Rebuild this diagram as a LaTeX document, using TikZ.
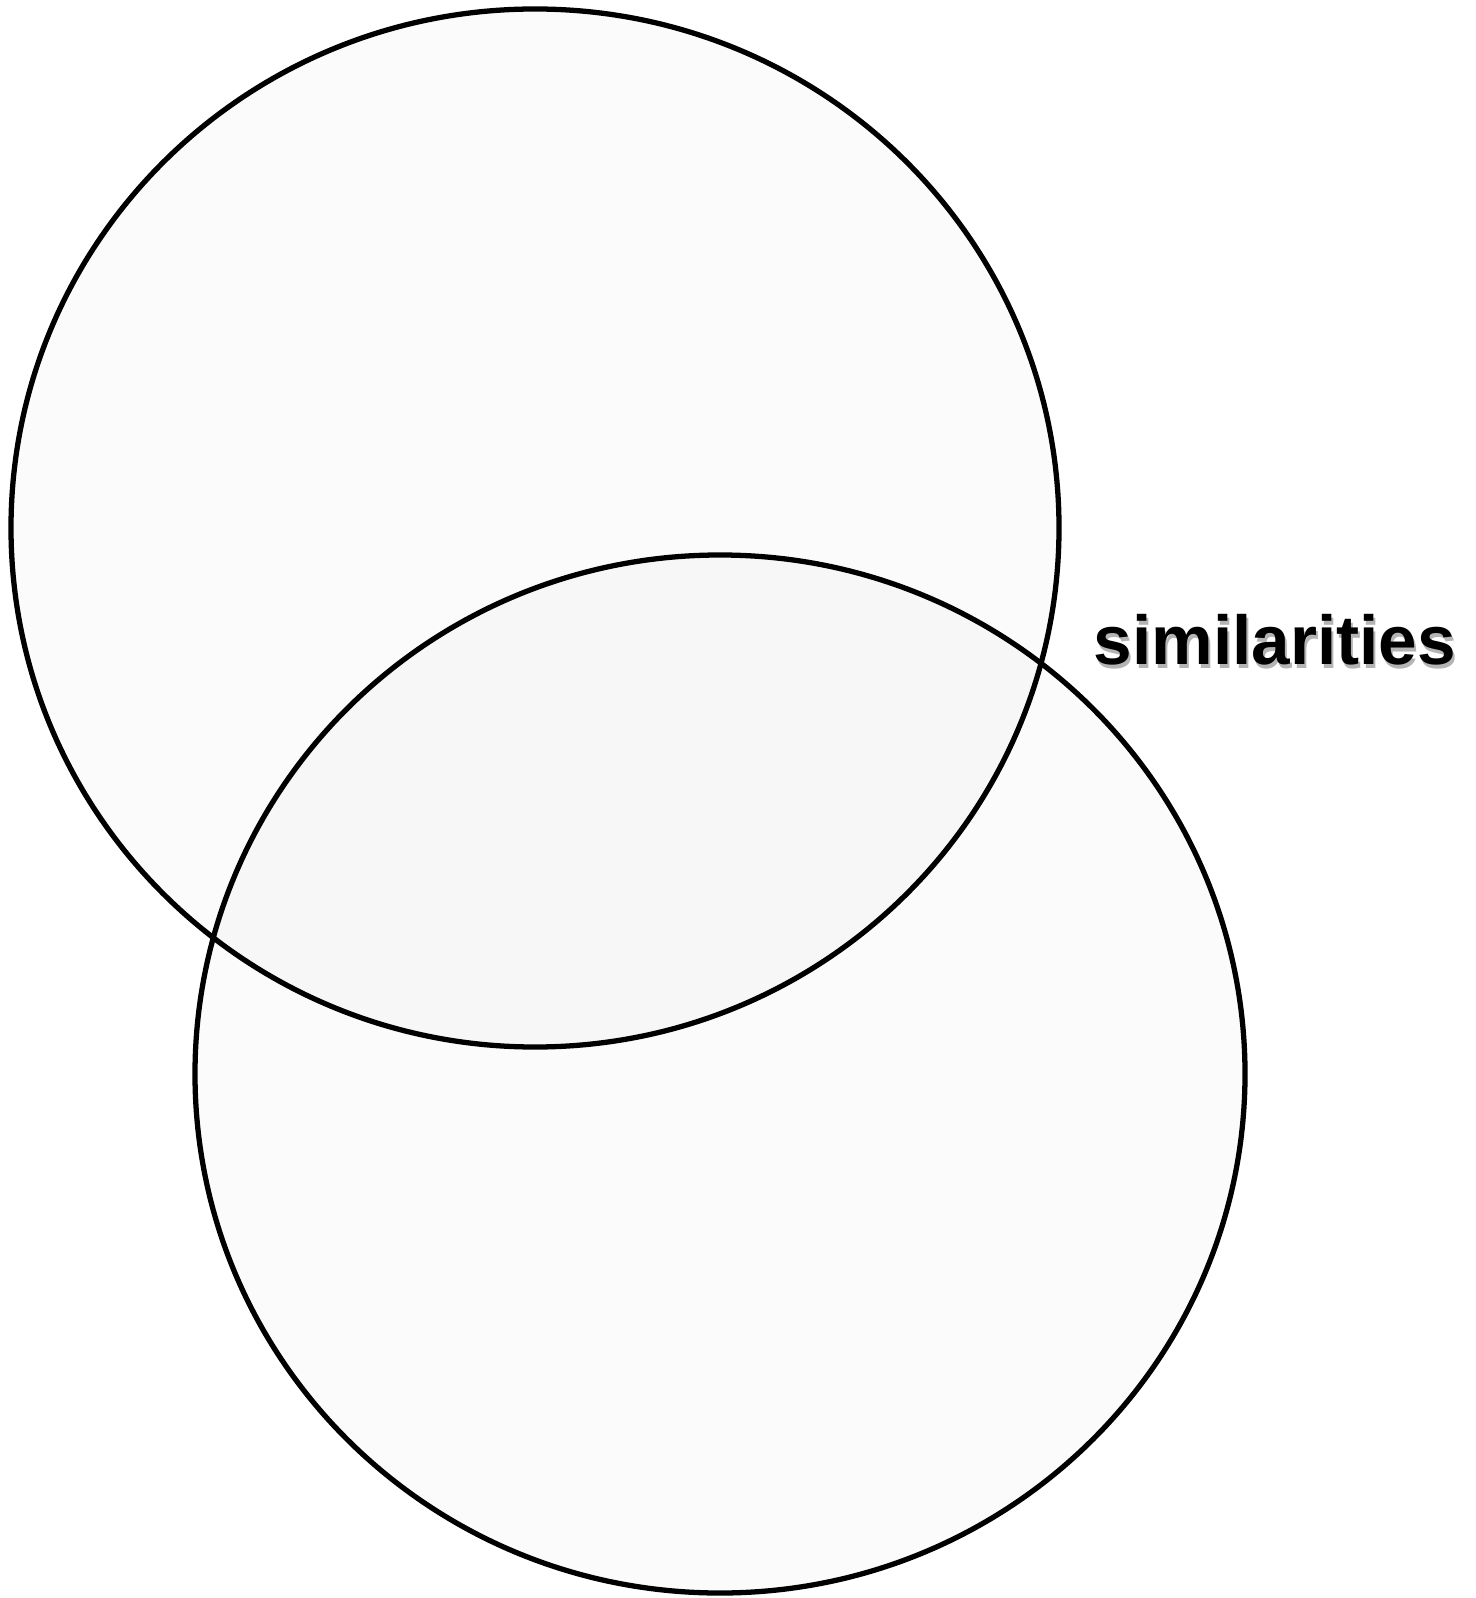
\documentclass[tikz,border=0pt]{standalone}
\usepackage{fontspec}
\setmainfont{Liberation Sans}
\usetikzlibrary{positioning}
\definecolor{Ink}{HTML}{000000}
\definecolor{Shade}{HTML}{B4B4B4}
\tikzset{
  setring/.style={draw=Ink, line width=1.5pt, fill=Ink, fill opacity=0.017},
  tag/.style={font=\fontsize{19.7pt}{23pt}\selectfont\bfseries, inner sep=0pt, anchor=base west}
}

\begin{document}
\begin{tikzpicture}[x=0.01cm,y=-0.01cm]
    \useasboundingbox (0,0) rectangle (1475,1598);
    % the two sets
    \draw[setring] (535,528) ellipse[x radius=524, y radius=519];
    \draw[setring] (720,1074) ellipse[x radius=525, y radius=519];
    % label with its shadow
    \node[tag,text=Shade] (simshadow) at (1095,668) {similarities};
    \node[tag,text=Ink] (sim) at (1093,665) {similarities};
\end{tikzpicture}
\end{document}
